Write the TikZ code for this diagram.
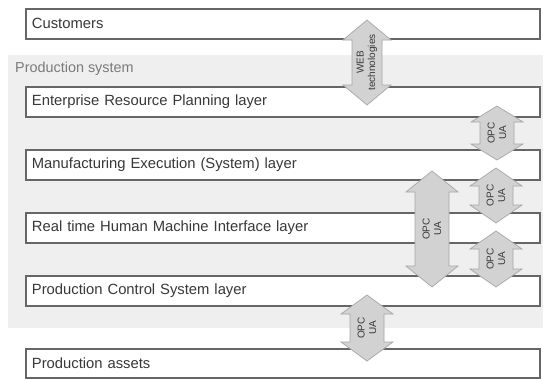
\documentclass[tikz,border=0pt]{standalone}
\usepackage{fontspec}
\setmainfont{Liberation Sans}
\definecolor{bgsys}{HTML}{EFEFEF}
\definecolor{boxline}{HTML}{666666}
\definecolor{txt}{HTML}{383838}
\definecolor{sysTxt}{HTML}{7A7A7A}
\definecolor{arrfill}{HTML}{D2D2D2}
\definecolor{arrline}{HTML}{A6A6A6}
\tikzset{
  layer/.style={draw=boxline, line width=1.8pt, fill=white, anchor=north west,
    minimum width=514pt, minimum height=30pt, text width=502pt, inner xsep=6pt,
    align=left, font=\fontsize{14.8}{17}\selectfont, text=txt},
  blockarrow/.style={fill=arrfill, draw=arrline, line width=0.7pt, line join=miter},
  arrtext/.style={rotate=90, align=center, font=\fontsize{10}{11.5}\selectfont, text=txt, inner sep=0pt}
}
\newcommand{\dblarrow}[7]{%
  % #1 name, #2 cx, #3 ytop, #4 ybot, #5 head length, #6 half head width, #7 text
  \path[blockarrow] (#2,#3) -- ({#2+#6},{#3+#5}) -- ({#2+#6-9},{#3+#5}) -- ({#2+#6-9},{#4-#5})
    -- ({#2+#6},{#4-#5}) -- (#2,#4) -- ({#2-#6},{#4-#5}) -- ({#2-#6+9},{#4-#5})
    -- ({#2-#6+9},{#3+#5}) -- ({#2-#6},{#3+#5}) -- cycle;
  \node[arrtext] (#1) at (#2,{(#3+#4)/2}) {#7};
}
\begin{document}
\begin{tikzpicture}[x=1pt,y=-1pt]
\useasboundingbox (0,0) rectangle (543,378);
\fill[white] (0,0) rectangle (543,378);
% production system background
\fill[bgsys] (8,55) rectangle (543,328);
\node[anchor=west, font=\fontsize{14.4}{16}\selectfont, text=sysTxt, inner sep=0pt] (sys) at (15,69) {Production system};
% layers
\node[layer] (cust) at (25,8) {Customers};
\node[layer] (erp) at (25,86) {Enterprise Resource Planning layer};
\node[layer] (mes) at (25,149) {Manufacturing Execution (System) layer};
\node[layer] (hmi) at (25,212) {Real time Human Machine Interface layer};
\node[layer] (pcs) at (25,275) {Production Control System layer};
\node[layer, minimum height=29pt] (assets) at (25,348) {Production assets};
% arrows
\dblarrow{web}{367}{20}{105}{20}{24}{WEB\\technologies}
\dblarrow{opcA}{497}{106}{160}{16}{26}{OPC\\UA}
\dblarrow{opcB}{496}{168}{223}{18}{26}{OPC\\UA}
\dblarrow{opcC}{496}{231}{287}{18}{26}{OPC\\UA}
\dblarrow{opcBig}{432}{171}{287}{21}{26}{OPC\\UA}
\dblarrow{opcD}{367}{295}{361}{19}{26}{OPC\\UA}
\end{tikzpicture}
\end{document}
